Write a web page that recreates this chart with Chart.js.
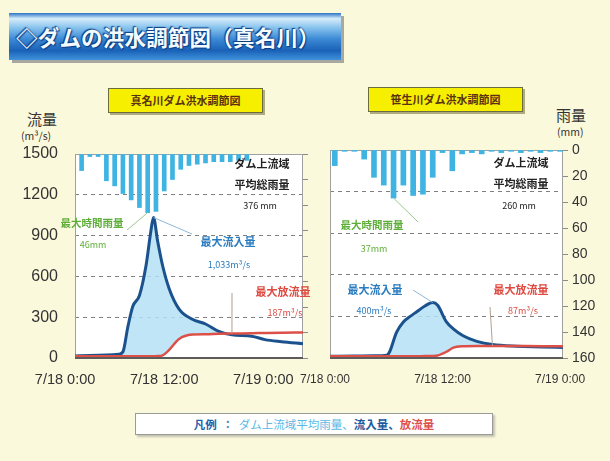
<!DOCTYPE html>
<html lang="ja">
<head>
<meta charset="utf-8">
<script src="https://cdn.jsdelivr.net/npm/chart.js@4.4.1/dist/chart.umd.min.js"></script>
<style>
  html, body { margin: 0; padding: 0; }
  body {
    width: 610px; height: 461px; position: relative; overflow: hidden;
    background: #fbf9dc;
    font-family: "Noto Sans CJK JP", "Noto Sans", sans-serif;
  }
  .banner {
    position: absolute; left: 9px; top: 13px; width: 332px; height: 47px;
    background: linear-gradient(to bottom, #2c74c4 0%, #d6ecfa 12%, #8cc6ee 30%, #3c8ad6 55%, #1a62b8 80%, #3f92dc 100%);
    box-shadow: 3px 3px 0 #a8a8a0;
    color: #f4fbff; font-weight: 700; font-size: 21.5px; line-height: 47px;
    padding-left: 7px; box-sizing: border-box; letter-spacing: 0.2px; white-space: nowrap;
    text-shadow: 0 0 2px #0b3f86, 1px 1px 1px #0b3f86, -1px -1px 1px #0b3f86;
  }
  .tag {
    position: absolute; height: 25px; width: 155px; box-sizing: border-box;
    background: #f7ef00; border: 1px solid #6b6b40; box-shadow: 2px 2px 0 #b0aa80;
    color: #5a3210; font-size: 11px; font-weight: 700; text-align: center; line-height: 23px;
  }
  .unit { position: absolute; color: #333; }
  canvas { position: absolute; }
  .legend {
    position: absolute; left: 135px; top: 413px; width: 358px; height: 22px; box-sizing: border-box;
    background: #fff; border: 1px solid #9a9a9a; box-shadow: 2px 2px 2px #c4c2b0;
    font-size: 11.5px; font-weight: 700; line-height: 20px; text-align: center;
  }
</style>
</head>
<body>
<div class="banner">◇ダムの洪水調節図（真名川）</div>
<div class="tag" style="left:108px; top:88px;">真名川ダム洪水調節図</div>
<div class="tag" style="left:368px; top:87px;">笹生川ダム洪水調節図</div>
<div class="unit" style="left:27px; top:108px; font-size:15px;">流量</div>
<div class="unit" style="left:21px; top:128px; font-size:10.5px;">(m³/s)</div>
<div class="unit" style="left:556px; top:104px; font-size:15px;">雨量</div>
<div class="unit" style="left:557px; top:124px; font-size:10.5px;">(mm)</div>
<canvas id="left" width="310" height="255" style="left:0; top:140px; width:310px; height:255px;"></canvas>
<canvas id="right" width="320" height="255" style="left:290px; top:140px; width:320px; height:255px;"></canvas>
<div class="legend">
  <span style="color:#1e5fae">凡例</span>
  <span style="color:#4a8cc4">&nbsp;：&nbsp;</span>
  <span style="color:#58b9e6; font-weight:400">ダム上流域平均雨量、</span><span style="color:#1b5a9c">流入量、</span><span style="color:#e0504a">放流量</span>
</div>

<script>
// ---- 真名川ダム (hours from 7/18 0:00) ----
const L_RAIN_HOURS = [2, 3, 4, 5, 6, 7, 8, 9, 10, 11, 12, 13, 14, 15, 16, 17, 18, 19, 20, 21, 22];
const L_RAIN       = [13, 2, 2, 21, 25, 31, 36, 42, 46, 45, 29, 20, 12, 9, 8, 7, 6, 6, 6, 5, 5];
const L_TIME       = [1.2, 3, 5, 6.5, 7, 7.6, 8.2, 9.0, 9.8, 10.4, 10.7, 11.2, 11.8, 12.6, 13.8, 15.4, 17.0, 18.6, 20.2, 22.6, 24.2, 26.2, 28.8];
const L_INFLOW     = [15, 18, 22, 28, 45, 230, 380, 460, 680, 940, 1033, 860, 680, 510, 360, 285, 250, 195, 170, 160, 135, 120, 105];
const L_OUTFLOW    = [12, 12, 12, 12, 12, 12, 12, 12, 12, 12, 12, 14, 20, 60, 140, 172, 175, 178, 180, 182, 184, 186, 187];

// ---- 笹生川ダム (hours from 7/18 0:00) ----
const R_RAIN_HOURS = [1, 2, 3, 4, 5, 6, 7, 8, 9, 10, 11, 12, 13, 14, 15, 16, 17, 18, 19, 20, 21, 22, 23, 24];
const R_RAIN       = [12, 1, 1, 7, 21, 27, 37, 27, 35, 34, 21, 2, 16, 3, 2, 3, 1, 2, 1, 2, 1, 2, 1, 1];
const R_TIME       = [0.5, 3, 5, 6.3, 6.6, 7.3, 8.0, 8.7, 9.4, 10.2, 11.0, 11.5, 12.4, 13.1, 14.1, 15.5, 17.1, 19.6, 22.2, 24.3];
const R_INFLOW     = [12, 14, 16, 20, 45, 185, 260, 300, 335, 375, 400, 380, 260, 210, 160, 120, 97, 85, 80, 75];
const R_OUTFLOW    = [12, 12, 12, 12, 12, 12, 12, 12, 12, 14, 15, 18, 45, 75, 85, 87, 87, 86, 85, 84];

// axis ticks
const X_TICKS       = [0, 12, 24];
const X_TICK_LABELS = ['7/18 0:00', '7/18 12:00', '7/19 0:00'];
const FLOW_TICKS    = [0, 300, 600, 900, 1200, 1500];
const RAIN_TICKS    = [0, 20, 40, 60, 80, 100, 120, 140, 160];

const sum = a => a.reduce((s, v) => s + v, 0);
const maxOf = a => Math.max(...a);
const fmt = v => Math.round(v).toLocaleString('en-US');
const pts = (xs, ys) => xs.map((x, i) => ({ x, y: ys[i] }));

const COLORS = {
  rain: '#3fb4e3',
  inflow: '#1b528e',
  outflow: '#dc5048',
  fill: 'rgba(180, 224, 245, 0.85)',
  grid: '#808080',
  frame: '#a0a0a0',
  text: '#333333',
  green: '#5fae3a',
  blue: '#2a7cc0',
  red: '#de4a40'
};

// plot background, frame, x labels, callouts
const decor = {
  id: 'decor',
  beforeDraw(chart) {
    const { ctx, chartArea: a } = chart;
    ctx.save();
    ctx.fillStyle = '#ffffff';
    ctx.fillRect(a.left, a.top, a.right - a.left, a.bottom - a.top);
    ctx.restore();
  },
  beforeDatasetsDraw(chart) {
    const { ctx, chartArea: a } = chart;
    ctx.save();
    ctx.strokeStyle = COLORS.frame;
    ctx.lineWidth = 1;
    ctx.strokeRect(a.left + 0.5, a.top + 0.5, a.right - a.left - 1, a.bottom - a.top);
    ctx.restore();
  },
  afterDatasetsDraw(chart, args, opts) {
    const { ctx, chartArea: a, scales } = chart;
    ctx.save();
    // bottom axis line
    ctx.strokeStyle = '#5c5c5c';
    ctx.lineWidth = 2;
    ctx.beginPath();
    ctx.moveTo(a.left, a.bottom);
    ctx.lineTo(a.right, a.bottom);
    ctx.stroke();

    // x tick labels
    ctx.fillStyle = COLORS.text;
    ctx.font = opts.xFont;
    ctx.textAlign = 'center';
    ctx.textBaseline = 'middle';
    X_TICKS.forEach((t, i) => {
      ctx.fillText(X_TICK_LABELS[i], scales.x.getPixelForValue(t), a.bottom + 22);
    });

    // leader lines
    ctx.lineWidth = 1;
    (opts.leaders || []).forEach(l => {
      const el = chart.getDatasetMeta(l.dataset).data[l.index];
      ctx.strokeStyle = l.color;
      ctx.beginPath();
      ctx.moveTo(l.from[0], l.from[1]);
      ctx.lineTo(el.x, el.y);
      ctx.stroke();
    });

    // callout texts
    ctx.textBaseline = 'alphabetic';
    (opts.notes || []).forEach(n => {
      ctx.font = `${n.bold ? '700 ' : ''}${n.size}px "Noto Sans CJK JP", sans-serif`;
      ctx.fillStyle = n.color;
      ctx.textAlign = 'center';
      ctx.fillText(n.text, n.x, n.y);
    });
    ctx.restore();
  }
};

function idxMax(a) { return a.indexOf(maxOf(a)); }

function makeChart(id, cfg) {
  const rightSide = cfg.side === 'right';
  const fit = w => s => {
    s.width = w;
    s.paddingTop = 0; s.paddingBottom = 0;
  };
  return new Chart(document.getElementById(id), {
    type: 'line',
    data: {
      datasets: [
        {
          type: 'line', label: '流入量', yAxisID: 'flow',
          data: pts(cfg.time, cfg.inflow),
          borderColor: COLORS.inflow, borderWidth: 3, pointRadius: 0,
          cubicInterpolationMode: 'monotone',
          fill: { target: 1, above: COLORS.fill, below: 'rgba(0,0,0,0)' },
          order: 2
        },
        {
          type: 'line', label: '放流量', yAxisID: 'flow',
          data: pts(cfg.time, cfg.outflow),
          borderColor: COLORS.outflow, borderWidth: 2.5, pointRadius: 0,
          cubicInterpolationMode: 'monotone', fill: false,
          order: 1
        },
        {
          type: 'bar', label: 'ダム上流域平均雨量', yAxisID: 'rain',
          data: pts(cfg.rainHours, cfg.rain),
          backgroundColor: COLORS.rain, barThickness: cfg.barWidth,
          order: 3
        }
      ]
    },
    options: {
      responsive: false, animation: false, devicePixelRatio: 1,
      layout: { padding: { top: cfg.padTop, bottom: 37, left: 0, right: 0 } },
      plugins: {
        legend: { display: false }, tooltip: { enabled: false },
        decor: { xFont: cfg.xFont, notes: cfg.notes, leaders: cfg.leaders }
      },
      scales: {
        x: { type: 'linear', min: cfg.xMin, max: cfg.xMax, display: false, offset: false },
        flow: {
          type: 'linear', position: 'left', min: 0, max: 1500,
          afterBuildTicks: s => { s.ticks = FLOW_TICKS.map(v => ({ value: v })); },
          afterFit: fit(cfg.flowWidth),
          ticks: {
            display: !rightSide, padding: 17, color: COLORS.text,
            font: { family: 'Liberation Sans', size: 16 },
            callback: v => String(v)
          },
          grid: {
            drawTicks: false,
            color: c => (c.tick && (c.tick.value === 0 || c.tick.value === 1500)) ? 'rgba(0,0,0,0)' : COLORS.grid
          },
          border: { display: false, dash: [4, 4] }
        },
        rain: {
          type: 'linear', position: 'right', min: 0, max: 160, reverse: true,
          afterBuildTicks: s => { s.ticks = RAIN_TICKS.map(v => ({ value: v })); },
          afterFit: fit(cfg.rainWidth),
          ticks: {
            display: rightSide, padding: 4, color: COLORS.text,
            font: { family: 'Liberation Sans', size: 14 },
            callback: v => String(v)
          },
          grid: { drawOnChartArea: false, tickLength: 5, color: '#8a8a8a' },
          border: { display: false }
        }
      }
    },
    plugins: [decor]
  });
}

// 真名川ダム
makeChart('left', {
  side: 'left', time: L_TIME, inflow: L_INFLOW, outflow: L_OUTFLOW,
  rainHours: L_RAIN_HOURS, rain: L_RAIN, barWidth: 4,
  xMin: 1.2, xMax: 28.8, padTop: 14, flowWidth: 75, rainWidth: 7,
  xFont: '14.5px "Liberation Sans"',
  notes: [
    { text: 'ダム上流域', x: 262, y: 28, size: 11, color: '#222', bold: true },
    { text: '平均総雨量', x: 262, y: 49, size: 11, color: '#222', bold: true },
    { text: `${fmt(sum(L_RAIN))} mm`, x: 260, y: 69, size: 9, color: '#222' },
    { text: '最大時間雨量', x: 92, y: 87, size: 10.5, color: COLORS.green, bold: true },
    { text: `${fmt(maxOf(L_RAIN))}mm`, x: 93, y: 108, size: 9, color: COLORS.green },
    { text: '最大流入量', x: 228, y: 106, size: 11, color: COLORS.blue, bold: true },
    { text: `${fmt(maxOf(L_INFLOW))}m³/s`, x: 229, y: 128, size: 9, color: COLORS.blue },
    { text: '最大放流量', x: 283, y: 156, size: 11, color: COLORS.red, bold: true },
    { text: `${fmt(maxOf(L_OUTFLOW))}m³/s`, x: 285, y: 176, size: 9, color: COLORS.red }
  ],
  leaders: [
    { dataset: 2, index: idxMax(L_RAIN), from: [127, 90], color: '#9cc890' },
    { dataset: 0, index: idxMax(L_INFLOW), from: [192, 94], color: '#8fb8d8' },
    { dataset: 1, index: 18, from: [232, 153], color: '#b0a090' }
  ]
});

// 笹生川ダム (canvas starts at page x = 290)
makeChart('right', {
  side: 'right', time: R_TIME, inflow: R_INFLOW, outflow: R_OUTFLOW,
  rainHours: R_RAIN_HOURS, rain: R_RAIN, barWidth: 5,
  xMin: 0.51, xMax: 24.3, padTop: 10, flowWidth: 40, rainWidth: 47,
  xFont: '12px "Liberation Sans Narrow", "Liberation Sans"',
  notes: [
    { text: 'ダム上流域', x: 231, y: 27, size: 11, color: '#222', bold: true },
    { text: '平均総雨量', x: 231, y: 48, size: 11, color: '#222', bold: true },
    { text: `${fmt(sum(R_RAIN))} mm`, x: 229, y: 69, size: 9, color: '#222' },
    { text: '最大時間雨量', x: 82, y: 89, size: 10.5, color: COLORS.green, bold: true },
    { text: `${fmt(maxOf(R_RAIN))}mm`, x: 84, y: 112, size: 9, color: COLORS.green },
    { text: '最大流入量', x: 85, y: 154, size: 11, color: COLORS.blue, bold: true },
    { text: `${fmt(maxOf(R_INFLOW))}m³/s`, x: 84, y: 174, size: 9, color: COLORS.blue },
    { text: '最大放流量', x: 231, y: 154, size: 11, color: COLORS.red, bold: true },
    { text: `${fmt(maxOf(R_OUTFLOW))}m³/s`, x: 233, y: 174, size: 9, color: COLORS.red }
  ],
  leaders: [
    { dataset: 2, index: idxMax(R_RAIN), from: [128, 82], color: '#9cc890' },
    { dataset: 0, index: idxMax(R_INFLOW), from: [123, 150], color: '#8fb8d8' },
    { dataset: 1, index: 16, from: [200, 167], color: '#b0a090' }
  ]
});
</script>
</body>
</html>
